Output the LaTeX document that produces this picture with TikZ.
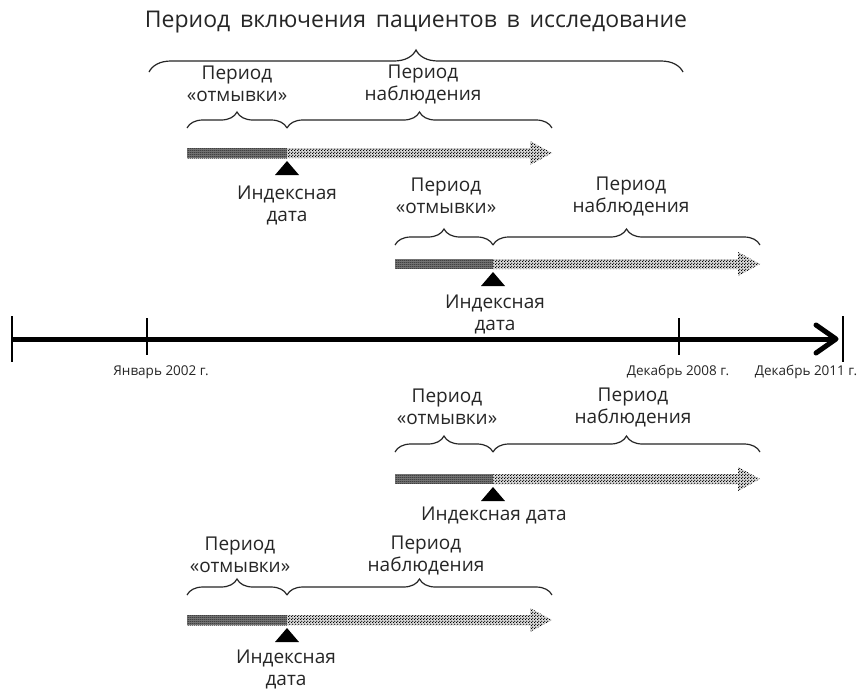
\documentclass[tikz,border=0pt]{standalone}
\usepackage{fontspec}
\setmainfont{Open Sans}
\usetikzlibrary{patterns,decorations.pathreplacing,calc}
\pgfdeclarepatternformonly{finecheck}{\pgfpointorigin}{\pgfqpoint{3pt}{3pt}}{\pgfqpoint{3pt}{3pt}}{%
  \pgfpathcircle{\pgfqpoint{0.75pt}{0.75pt}}{0.85pt}%
  \pgfpathcircle{\pgfqpoint{2.25pt}{2.25pt}}{0.85pt}%
  \pgfusepath{fill}}
\pgfdeclarepatternformonly{finelines}{\pgfpointorigin}{\pgfqpoint{2pt}{2pt}}{\pgfqpoint{2pt}{2pt}}{%
  \pgfpathrectangle{\pgfqpoint{0pt}{0pt}}{\pgfqpoint{2pt}{1pt}}%
  \pgfusepath{fill}}
\newcommand\mygroup[6]{% #1 prefix, #2 x0, #3 xm, #4 x1, #5 arrow y, #6 brace y
  \coordinate (#1s) at (#2,#5);
  \coordinate (#1m) at (#3,#5);
  \coordinate (#1e) at (#4,#5);
  \coordinate (#1bs) at (#2,#6);
  \coordinate (#1bm) at (#3,#6);
  \coordinate (#1be) at (#4,#6);
  \fill[black!55] ($(#1s)+(0,-5)$) rectangle ($(#1m)+(0,5)$);
  \fill[pattern=finelines,pattern color=black!85] ($(#1s)+(0,-5)$) rectangle ($(#1m)+(0,5)$);
  \fill[black!15] ($(#1m)+(0,-5)$) -- ($(#1e)+(-22,-5)$) -- ($(#1e)+(-22,-12)$) -- (#1e) -- ($(#1e)+(-22,12)$) -- ($(#1e)+(-22,5)$) -- ($(#1m)+(0,5)$) -- cycle;
  \fill[pattern=finecheck,pattern color=black] ($(#1m)+(0,-5)$) -- ($(#1e)+(-22,-5)$) -- ($(#1e)+(-22,-12)$) -- (#1e) -- ($(#1e)+(-22,12)$) -- ($(#1e)+(-22,5)$) -- ($(#1m)+(0,5)$) -- cycle;
  \fill[black] ($(#1m)+(0,8)$) -- ($(#1m)+(12,22)$) -- ($(#1m)+(-12,22)$) -- cycle;
  \draw[brc] (#1bs) -- (#1bm);
  \draw[brc] (#1bm) -- (#1be);
}
\begin{document}
\begin{tikzpicture}[x=1pt,y=-1pt,
  lbl/.style={font=\fontsize{19}{22}\selectfont, align=center, inner sep=0pt, text=black!85},
  ttl/.style={font=\fontsize{23}{27}\selectfont, inner sep=0pt, text=black!85},
  small/.style={font=\fontsize{13.5}{15}\selectfont, inner sep=0pt, text=black!85},
  brc/.style={decorate, decoration={brace, amplitude=16pt}, line width=1.2pt, black!85},
  tick/.style={line width=1.5pt, black}]
\useasboundingbox (0,0) rectangle (866,691);
\fill[white] (0,0) rectangle (866,691);

% title and top brace
\node[ttl] (title) at (416,22) {Период\, включения\, пациентов\, в\, исследование};
\coordinate (tb0) at (149,72);
\coordinate (tb1) at (683,72);
\draw[decorate, decoration={brace, amplitude=22pt}, line width=1.2pt, black!85] (tb0) -- (tb1);

% group 1
\mygroup{a}{187}{287}{552}{153}{128}
\node[lbl] (a1) at (237,84) {Период\\«отмывки»};
\node[lbl] (a2) at (423,84) {Период\\наблюдения};
\node[lbl] (a3) at (287,205) {Индексная\\дата};

% group 2
\mygroup{b}{395}{493}{760}{264}{245}
\node[lbl] (b1) at (446,196) {Период\\«отмывки»};
\node[lbl] (b2) at (631,196) {Период\\наблюдения};
\node[lbl] (b3) at (495,314) {Индексная\\дата};

% timeline
\coordinate (t0) at (12,339);
\coordinate (t1) at (836,339);
\draw[line width=5pt] (t0) -- (t1);
\draw[line width=5pt, line join=round, line cap=round] (816,325) -- (t1) -- (816,353);
\draw[tick] (12,316) -- (12,362);
\draw[tick] (147,318) -- (147,355);
\draw[tick] (679,318) -- (679,355);
\draw[tick] (843,316) -- (843,362);
\node[small] (l1) at (161,372) {Январь 2002 г.};
\node[small] (l2) at (678,372) {Декабрь 2008 г.};
\node[small] (l3) at (806,372) {Декабрь 2011 г.};

% group 3
\mygroup{c}{395}{493}{760}{479}{452}
\node[lbl] (c1) at (447,407) {Период\\«отмывки»};
\node[lbl] (c2) at (633,407) {Период\\наблюдения};
\node[lbl] (c3) at (494,515) {Индексная дата};

% group 4
\mygroup{d}{187}{287}{552}{620}{595}
\node[lbl] (d1) at (240,555) {Период\\«отмывки»};
\node[lbl] (d2) at (426,555) {Период\\наблюдения};
\node[lbl] (d3) at (286,669) {Индексная\\дата};
\end{tikzpicture}
\end{document}
